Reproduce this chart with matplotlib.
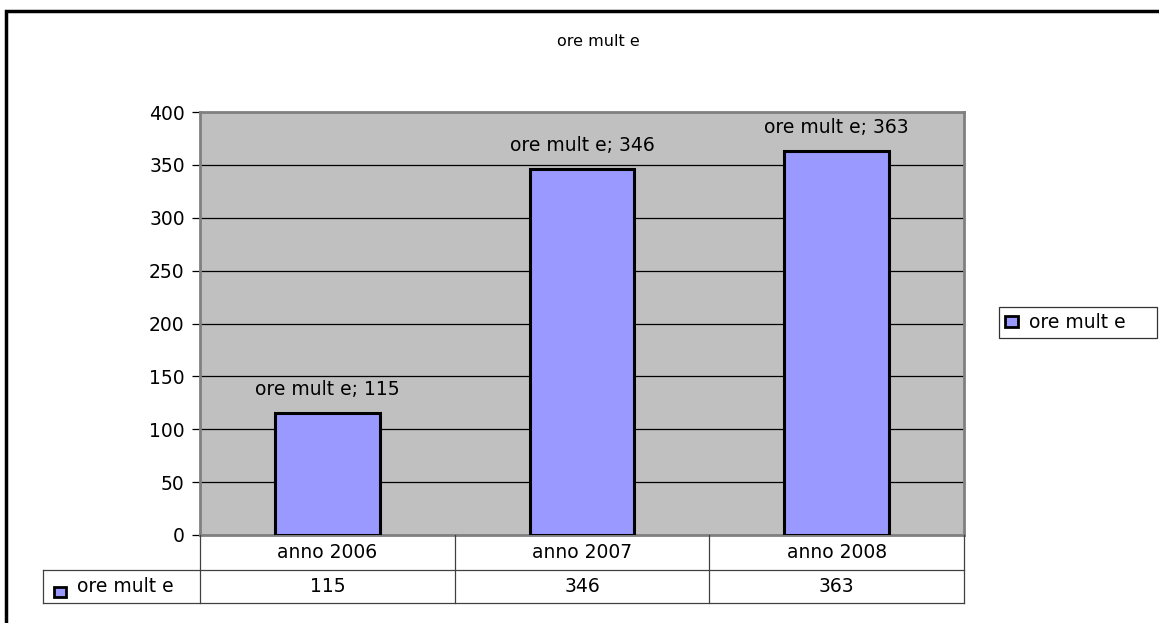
import matplotlib
matplotlib.use("Agg")
import matplotlib.pyplot as plt
from matplotlib.patches import Rectangle
from matplotlib.lines import Line2D
import numpy as np

plt.rcParams['font.family'] = ['DejaVu Sans']

# data
categories = ["anno 2006", "anno 2007", "anno 2008"]
values = [115, 346, 363]
series_name = "ore mult e"
yticks = [0, 50, 100, 150, 200, 250, 300, 350, 400]

W, H = 1159, 623
fig = plt.figure(figsize=(W / 100, H / 100), dpi=100)
FS = 13.5


def fx(px):
    return px / W


def fy(py):
    return 1 - py / H


bar_color = "#9999FF"
ax_l, ax_r, ax_t, ax_b = 200, 964, 112, 535
ax = fig.add_axes([fx(ax_l), fy(ax_b), fx(ax_r - ax_l), (ax_b - ax_t) / H])
ax.set_facecolor("#C0C0C0")

x = np.arange(len(categories))
bars = ax.bar(x, values, width=0.41, color=bar_color, edgecolor="black",
              linewidth=2.2, zorder=3)
ax.set_xlim(-0.5, len(categories) - 0.5)
ax.set_ylim(0, 400)
ax.set_yticks(yticks)
ax.set_yticklabels([str(v) for v in yticks], fontsize=FS)
ax.set_xticks([])
ax.yaxis.grid(True, color="black", linewidth=0.9, zorder=1)
ax.set_axisbelow(True)
ax.tick_params(axis="y", length=6, width=0.9, color="black", pad=5)
for side in ["left", "right", "top", "bottom"]:
    ax.spines[side].set_color("#808080")
    ax.spines[side].set_linewidth(2)

for xi, v in zip(x, values):
    ax.annotate(f"{series_name}; {v}", (xi, v), xytext=(0, 17),
                textcoords="offset points", ha="center", va="center",
                fontsize=FS)

# title
fig.text(fx(598), fy(41), series_name, ha="center", va="center", fontsize=11.5)

# data table under the plot
row1_top, row1_bot, row2_bot = 535, 570, 603
tab_left = 43
col_px = [ax_l + i * (ax_r - ax_l) / len(categories) for i in range(len(categories) + 1)]
lc = "#404040"
lw = 0.9
fig.add_artist(Line2D([fx(tab_left), fx(ax_r)], [fy(row1_bot)] * 2, color=lc, lw=lw))
fig.add_artist(Line2D([fx(tab_left), fx(ax_r)], [fy(row2_bot)] * 2, color=lc, lw=lw))
fig.add_artist(Line2D([fx(tab_left)] * 2, [fy(row1_bot), fy(row2_bot)], color=lc, lw=lw))
for cx in col_px:
    fig.add_artist(Line2D([fx(cx)] * 2, [fy(row1_top), fy(row2_bot)], color=lc, lw=lw))
for i, (cat, v) in enumerate(zip(categories, values)):
    cx = (col_px[i] + col_px[i + 1]) / 2
    fig.text(fx(cx), fy((row1_top + row1_bot) / 2), cat, ha="center", va="center",
             fontsize=FS)
    fig.text(fx(cx), fy((row1_bot + row2_bot) / 2), str(v), ha="center", va="center",
             fontsize=FS)
fig.patches.append(Rectangle((fx(54), fy(597)), fx(12), 10 / H, transform=fig.transFigure,
                             facecolor=bar_color, edgecolor="black", linewidth=2))
fig.text(fx(77), fy(587), series_name, ha="left", va="center", fontsize=FS)

# legend
leg = fig.legend([bars], [series_name], loc="center", mode="expand",
                 bbox_to_anchor=(fx(999), fy(340), fx(1157 - 999), 35 / H),
                 fontsize=FS, frameon=True, fancybox=False, edgecolor="black",
                 handlelength=0.7, handleheight=0.55, handletextpad=0.6,
                 borderpad=0.3, borderaxespad=0)
leg.get_frame().set_linewidth(0.9)
for h in leg.legend_handles:
    h.set_linewidth(2)

# outer chart border (only left and top visible)
fig.patches.append(Rectangle((fx(6), fy(650)), fx(1200), (650 - 11) / H,
                             transform=fig.transFigure, fill=False,
                             edgecolor="black", linewidth=2.5))

fig.savefig("out.png", dpi=100)
